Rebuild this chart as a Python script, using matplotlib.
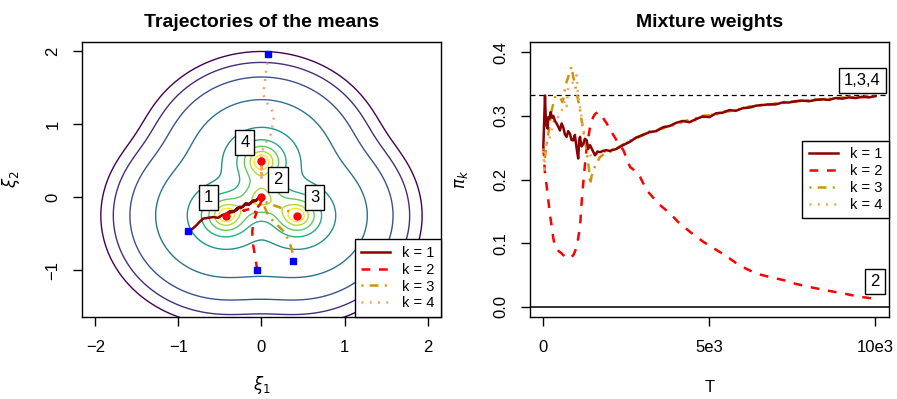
import numpy as np
import matplotlib
matplotlib.use("Agg")
import matplotlib.pyplot as plt
from matplotlib.lines import Line2D

plt.rcParams["font.family"] = ["Liberation Sans", "DejaVu Sans"]
plt.rcParams["mathtext.fontset"] = "dejavusans"

# ---- left panel: target density (mixture components, core + broad tail) ----
comp_x = [-0.433, 0.0, 0.433, 0.0]
comp_y = [-0.25, 0.0, -0.25, 0.5]
comp_w = [1.0, 0.75, 1.0, 1.0]
comp_s = [0.2, 0.18, 0.2, 0.2]
tail_w = [0.1, 0.0, 0.1, 0.1]
tail_s = 0.36
# contour heights, read where each level crosses the vertical axis xi1 = 0
level_heights = [2.0, 1.85, 1.65, 1.34, 0.96, 0.79, 0.70, 0.63, 0.58]

# trajectories of the four means
traj1_x = [-0.88, -0.84, -0.79, -0.74, -0.70, -0.64, -0.58, -0.52, -0.47, -0.43, -0.38, -0.33,
           -0.28, -0.24, -0.20, -0.15, -0.11, -0.07, -0.04, -0.06, -0.10, -0.14, -0.19, -0.23,
           -0.27, -0.31, -0.29, -0.34, -0.38, -0.41, -0.43]
traj1_y = [-0.46, -0.44, -0.39, -0.33, -0.29, -0.28, -0.27, -0.28, -0.24, -0.23, -0.19, -0.19,
           -0.15, -0.14, -0.10, -0.10, -0.06, -0.05, -0.01, -0.04, -0.04, -0.09, -0.08, -0.13,
           -0.13, -0.18, -0.15, -0.20, -0.21, -0.25, -0.25]
traj2_x = [-0.05, -0.07, -0.09, -0.11, -0.11, -0.09, -0.06, -0.10, -0.17, -0.22, -0.14, -0.06, -0.02, 0.0, 0.0]
traj2_y = [-1.0, -0.86, -0.72, -0.59, -0.45, -0.31, -0.21, -0.18, -0.17, -0.18, -0.16, -0.15, -0.10, -0.05, 0.0]
traj3_x = [0.38, 0.38, 0.36, 0.33, 0.27, 0.20, 0.13, 0.07, 0.04, 0.03, 0.06, 0.15, 0.25, 0.35, 0.43]
traj3_y = [-0.87, -0.78, -0.70, -0.59, -0.47, -0.39, -0.31, -0.22, -0.14, -0.06, -0.07, -0.11, -0.15, -0.20, -0.25]
traj4_x = [0.08, 0.07, 0.05, 0.04, 0.02, 0.07, 0.13, 0.15, 0.13, 0.11, 0.07, 0.03, 0.0, 0.0, 0.0, 0.0, 0.0, 0.0, 0.0, 0.0]
traj4_y = [1.96, 1.84, 1.70, 1.57, 1.41, 1.29, 1.18, 1.06, 0.97, 0.86, 0.79, 0.70, 0.60, 0.50, 0.24, 0.50, 0.30, 0.48, 0.26, 0.50]

label_text = ["1", "2", "3", "4"]
label_x = [-0.64, 0.20, 0.64, -0.20]
label_y = [0.0, 0.24, 0.0, 0.75]

# ---- right panel: mixture weights over T ----
T_late = np.arange(2000, 10001, 200)
w1_early_T = [0, 50, 80, 100, 130, 150, 190, 220, 260, 300, 350, 400, 450, 500, 550, 600, 650, 700, 750,
              800, 850, 900, 950, 1000, 1050, 1080, 1105, 1150, 1205, 1250, 1307, 1350, 1406, 1480,
              1557, 1630, 1708, 1800, 1900]
w1_early = [0.251, 0.332, 0.285, 0.288, 0.280, 0.298, 0.296, 0.306, 0.297, 0.300, 0.292, 0.288, 0.283,
            0.277, 0.288, 0.282, 0.271, 0.267, 0.276, 0.272, 0.262, 0.2615, 0.270, 0.250, 0.233, 0.262,
            0.267, 0.252, 0.256, 0.264, 0.2615, 0.248, 0.254, 0.246, 0.238, 0.244, 0.243, 0.245, 0.246]
w1_late = [0.245, 0.248, 0.254, 0.259, 0.266, 0.270, 0.2745, 0.276, 0.282, 0.284, 0.289, 0.292, 0.290,
           0.295, 0.299, 0.298, 0.304, 0.305, 0.309, 0.308, 0.312, 0.313, 0.316, 0.317, 0.318, 0.318,
           0.321, 0.321, 0.323, 0.324, 0.323, 0.325, 0.326, 0.325, 0.328, 0.327, 0.329, 0.328, 0.330,
           0.329, 0.331]

w2_T = [0, 51, 100, 151, 200, 253, 300, 352, 450, 554, 705, 800, 904, 1006, 1050, 1105, 1157, 1226,
        1307, 1406, 1500, 1557, 1657, 1780, 1910, 2050, 2211, 2410, 2612, 2800, 2912, 3114, 3300, 3464,
        3816, 4066, 4418, 4820, 5222, 5500, 5823, 6100, 6425, 6800, 7228, 7600, 8032, 8500, 9036, 9500,
        9940]
w2 = [0.251, 0.209, 0.190, 0.167, 0.145, 0.1255, 0.108, 0.094, 0.088, 0.0837, 0.076, 0.077, 0.081,
      0.094, 0.108, 0.1255, 0.167, 0.209, 0.251, 0.282, 0.298, 0.303, 0.306, 0.298, 0.288, 0.275, 0.261,
      0.246, 0.2196, 0.212, 0.204, 0.183, 0.172, 0.162, 0.1465, 0.133, 0.1177, 0.102, 0.089, 0.080,
      0.068, 0.060, 0.052, 0.047, 0.042, 0.036, 0.031, 0.026, 0.021, 0.016, 0.013]

w3_early_T = [0, 50, 100, 150, 250, 350, 420, 500, 580, 680, 780, 850, 900, 950, 1000, 1100, 1200, 1300,
              1380, 1410, 1450, 1550, 1700, 1850]
w3_early = [0.250, 0.235, 0.255, 0.272, 0.3085, 0.329, 0.332, 0.329, 0.3216, 0.350, 0.366, 0.3776, 0.361,
            0.350, 0.337, 0.311, 0.277, 0.246, 0.214, 0.192, 0.205, 0.2196, 0.235, 0.241]
w3_late = [0.243, 0.249, 0.255, 0.261, 0.264, 0.271, 0.273, 0.279, 0.280, 0.286, 0.285, 0.291, 0.294,
           0.293, 0.300, 0.301, 0.302, 0.307, 0.307, 0.311, 0.310, 0.315, 0.314, 0.318, 0.317, 0.320,
           0.320, 0.323, 0.322, 0.325, 0.324, 0.326, 0.325, 0.327, 0.327, 0.329, 0.328, 0.330, 0.329,
           0.331, 0.330]

w4_early_T = [0, 30, 50, 100, 150, 200, 300, 400, 450, 550, 650, 700, 750, 850, 950, 1000, 1050, 1120,
              1180, 1250, 1350, 1450, 1600, 1800]
w4_early = [0.245, 0.210, 0.230, 0.256, 0.262, 0.267, 0.290, 0.300, 0.298, 0.3085, 0.324, 0.315, 0.345,
            0.350, 0.3556, 0.364, 0.329, 0.3085, 0.288, 0.264, 0.246, 0.235, 0.240, 0.243]
w4_late = [0.246, 0.250, 0.253, 0.262, 0.265, 0.269, 0.276, 0.277, 0.283, 0.283, 0.288, 0.289, 0.293,
           0.297, 0.297, 0.302, 0.303, 0.306, 0.308, 0.309, 0.313, 0.312, 0.316, 0.316, 0.319, 0.319,
           0.322, 0.322, 0.324, 0.323, 0.325, 0.326, 0.327, 0.326, 0.328, 0.328, 0.330, 0.329, 0.330,
           0.330, 0.332]

colors = ["#8B0000", "#FF0000", "#CD950C", "#F4A460"]
styles = ["-", (0, (3.5, 3.5)), (0, (0.8, 2.5, 3.5, 2.5)), (0, (0.8, 2.5))]
legend_labels = ["k = 1", "k = 2", "k = 3", "k = 4"]


def density(x, y):
    z = np.zeros_like(x)
    for mx, my, w, s, tw in zip(comp_x, comp_y, comp_w, comp_s, tail_w):
        d2 = (x - mx) ** 2 + (y - my) ** 2
        z += w * np.exp(-d2 / (2 * s ** 2)) + tw * np.exp(-d2 / (2 * tail_s ** 2))
    return z


fig = plt.figure(figsize=(8.97, 3.99), dpi=100)
ax1 = fig.add_axes([0.0914, 0.2055, 0.4002, 0.6892])
ax2 = fig.add_axes([0.5909, 0.2055, 0.3999, 0.6892])

# left panel
gx, gy = np.meshgrid(np.linspace(-2.3, 2.3, 461), np.linspace(-1.8, 2.3, 411))
gz = density(gx, gy)
levels = np.sort(density(np.zeros(len(level_heights)), np.array(level_heights)))
ax1.contour(gx, gy, gz, levels=levels, colors=plt.cm.viridis(np.linspace(0, 1, len(levels))),
            linewidths=1.0)

trajs = [(traj1_x, traj1_y), (traj2_x, traj2_y), (traj3_x, traj3_y), (traj4_x, traj4_y)]
for (tx, ty), c, ls in zip(trajs, colors, styles):
    ax1.plot(tx, ty, color=c, linestyle=ls, lw=1.8)
ax1.plot([t[0][0] for t in trajs], [t[1][0] for t in trajs], "s", color="blue", ms=4.5, zorder=5)
ax1.plot([t[0][-1] for t in trajs], [t[1][-1] for t in trajs], "o", color="red", ms=5, zorder=5)
for s, lx, ly in zip(label_text, label_x, label_y):
    ax1.text(lx, ly, s, fontsize=12, ha="center", va="center", zorder=6,
             bbox=dict(boxstyle="square,pad=0.3", fc="white", ec="black", lw=1))

ax1.set_xlim(-2.16, 2.16)
ax1.set_ylim(-1.64, 2.13)
ax1.set_xticks([-2, -1, 0, 1, 2])
ax1.set_yticks([-1, 0, 1, 2])
ax1.set_xticklabels(["\u22122", "\u22121", "0", "1", "2"])
ax1.set_yticklabels(["\u22121", "0", "1", "2"])
ax1.set_title("Trajectories of the means", fontsize=14, fontweight="bold", pad=11)
ax1.set_xlabel(r"$\xi_1$", fontsize=12, labelpad=14)
ax1.set_ylabel(r"$\xi_2$", fontsize=12, labelpad=17)
handles = [Line2D([], [], color=c, linestyle=ls, lw=1.8) for c, ls in zip(colors, styles)]
ax1.legend(handles, legend_labels, loc="lower right", borderaxespad=0, fancybox=False,
           edgecolor="black", framealpha=1, fontsize=10.5, handlelength=2.0, handletextpad=0.8,
           labelspacing=0.2, borderpad=0.45).get_frame().set_linewidth(1)

# right panel
ax2.axhline(1 / 3, color="black", lw=0.9, linestyle=(0, (4, 3)))
ax2.axhline(0, color="#333333", lw=1.4)
ax2.plot(np.concatenate([w1_early_T, T_late]), np.concatenate([w1_early, w1_late]),
         color=colors[0], linestyle=styles[0], lw=1.8, zorder=4)
ax2.plot(w2_T, w2, color=colors[1], linestyle=styles[1], lw=1.8, zorder=3)
ax2.plot(np.concatenate([w3_early_T, T_late]), np.concatenate([w3_early, w3_late]),
         color=colors[2], linestyle=styles[2], lw=1.8, zorder=3)
ax2.plot(np.concatenate([w4_early_T, T_late]), np.concatenate([w4_early, w4_late]),
         color=colors[3], linestyle=styles[3], lw=1.8, zorder=3)
ax2.text(9600, 0.356, "1,3,4", fontsize=12, ha="center", va="center", zorder=6,
         bbox=dict(boxstyle="square,pad=0.3", fc="white", ec="black", lw=1))
ax2.text(9990, 0.039, "2", fontsize=12, ha="center", va="center", zorder=6,
         bbox=dict(boxstyle="square,pad=0.3", fc="white", ec="black", lw=1))
ax2.set_xlim(-400, 10400)
ax2.set_ylim(-0.016, 0.416)
ax2.set_xticks([0, 5000, 10000])
ax2.set_xticklabels(["0", "5e3", "10e3"])
ax2.set_yticks([0.0, 0.1, 0.2, 0.3, 0.4])
ax2.set_yticklabels(["0.0", "0.1", "0.2", "0.3", "0.4"])
ax2.set_title("Mixture weights", fontsize=14, fontweight="bold", pad=11)
ax2.set_xlabel("T", fontsize=12, labelpad=18)
ax2.set_ylabel(r"$\pi_k$", fontsize=12, labelpad=17)
ax2.legend(handles, legend_labels, loc="center right", borderaxespad=0, fancybox=False,
           edgecolor="black", framealpha=1, fontsize=10.5, handlelength=2.0, handletextpad=0.8,
           labelspacing=0.2, borderpad=0.45).get_frame().set_linewidth(1)

for ax in (ax1, ax2):
    ax.tick_params(direction="out", length=6.5, width=1, labelsize=12, pad=10)
    ax.tick_params(axis="y", labelrotation=90, pad=9)
    for lab in ax.get_yticklabels():
        lab.set_va("center")
    for sp in ax.spines.values():
        sp.set_linewidth(1)

fig.savefig("out.png", dpi=100)
